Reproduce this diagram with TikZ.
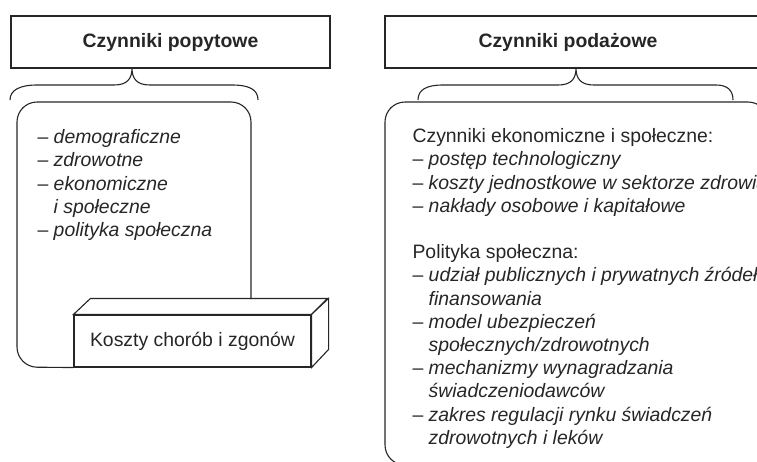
\documentclass[tikz,border=0pt]{standalone}
\usepackage{fontspec}
\setmainfont{Liberation Sans}
\tikzset{%
    title box/.style={%
        draw,
        minimum height=52pt,
        inner sep=0pt
    },%
    title text/.style={%
        font=\fontsize{19.4}{23.2}\selectfont\bfseries,
        inner sep=0pt
    },%
    list text/.style={%
        align=left,
        anchor=north west,
        inner sep=0pt
    },%
    cost box/.style={%
        draw,
        fill=white,
        minimum width=237pt,
        minimum height=52pt,
        inner sep=0pt
    }%
}
\newcommand{\ind}{\phantom{– }}

\begin{document}
\begin{tikzpicture}[x=1pt, y=-1pt, line width=1.1pt, black!85,
    font=\fontsize{19.4}{23.2}\selectfont]
\path[use as bounding box] (0,0) rectangle (757,461);
\clip (0,0) rectangle (757,461);

% titles
\node[title box, minimum width=319pt] (demandT) at (170.5,42) {};
\node[title text] (demandL) at (demandT.center) {Czynniki popytowe};
\node[title box, minimum width=383pt] (supplyT) at (576.5,42) {};
\node[title text] (supplyL) at (568,42) {Czynniki podażowe};

% braces
\draw (10,100) .. controls (10,90) and (20,85) .. (37,85) -- (114,85)
    .. controls (127,85) and (132,79) .. (132,68)
    .. controls (132,79) and (137,85) .. (150,85) -- (232,85)
    .. controls (250,85) and (258,90) .. (258,100);
\draw (418,100) .. controls (418,90) and (426,85) .. (443,85) -- (558,85)
    .. controls (571,85) and (576,79) .. (576,68)
    .. controls (576,79) and (581,85) .. (594,85) -- (716,85)
    .. controls (727,85) and (733,90) .. (733,100);

% demand side
\node[cost box] (cost) at (192.5,341) {Koszty chorób i zgonów};
\draw[fill=white] (cost.north west) -- ++(17,-16) -- ++(237,0)
    -- (cost.north east) -- cycle;
\draw[fill=white] (cost.north east) -- ++(17,-16) -- ++(0,51)
    -- (cost.south east) -- cycle;
\draw[rounded corners=20pt] (251,299) -- (251,102) -- (17,102) -- (17,367)
    -- (cost.south west);
\node[list text] (demandList) at (37,129) {%
– \textit{demograficzne}\\
– \textit{zdrowotne}\\
– \textit{ekonomiczne}\\
\ind\textit{i społeczne}\\
– \textit{polityka społeczna}};

% supply side
\draw[rounded corners=20pt] (385,102) rectangle (768,465);
\node[list text] (supplyList) at (412,128) {%
Czynniki ekonomiczne i społeczne:\\
– \textit{postęp technologiczny}\\
– \textit{koszty jednostkowe w sektorze zdrowia}\\
– \textit{nakłady osobowe i kapitałowe}\\[23.2pt]
Polityka społeczna:\\
– \textit{udział publicznych i prywatnych źródeł}\\
\ind\textit{finansowania}\\
– \textit{model ubezpieczeń}\\
\ind\textit{społecznych/zdrowotnych}\\
– \textit{mechanizmy wynagradzania}\\
\ind\textit{świadczeniodawców}\\
– \textit{zakres regulacji rynku świadczeń}\\
\ind\textit{zdrowotnych i leków}};
\end{tikzpicture}
\end{document}
